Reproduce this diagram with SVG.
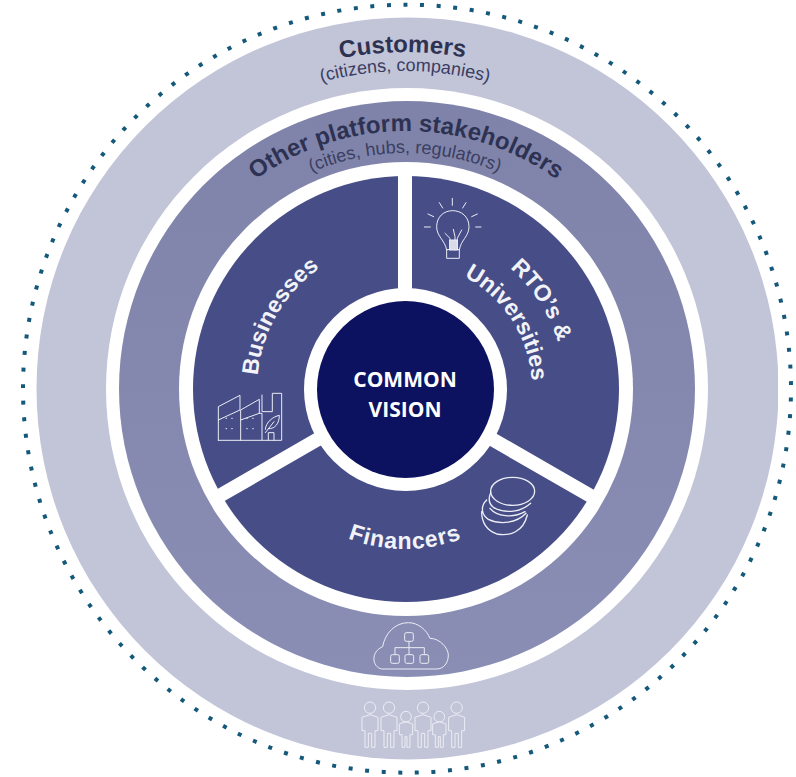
<svg xmlns="http://www.w3.org/2000/svg" width="796" height="777" viewBox="0 0 796 777">
<style>
.t{font-family:"Liberation Sans",Arial,sans-serif}
.h{font-weight:700;font-size:24px;fill:#2e3252}
.s{font-size:18px;fill:#3a3e62}
.w{font-weight:700;font-size:23px;fill:#f2f3f8}
.c{font-family:"Open Sans",sans-serif;font-weight:700;font-size:21px;fill:#fff;text-anchor:middle}
.i{fill:none;stroke:#eceef5;stroke-width:3;stroke-linejoin:round;stroke-linecap:round}
.p{fill:none;stroke:#eceDf4;stroke-width:3;stroke-linejoin:round}
</style>
<defs>
<clipPath id="clipDisc"><rect x="0" y="0" width="778" height="777"/></clipPath>
<linearGradient id="midGrad" x1="0" y1="0" x2="0" y2="1"><stop offset="0" stop-color="#7f83a9"/><stop offset="1" stop-color="#8a8eb5"/></linearGradient>
<path id="a337" d="M68 389A337 337 0 0 1 742 389"/>
<path id="a318" d="M87 389A318 318 0 0 1 723 389"/>
<path id="a258" d="M148 389A258 258 0 0 1 664 389"/>
<path id="a236" d="M169 389A236 236 0 0 1 641 389"/>
<path id="a148" d="M257 389A148 148 0 0 1 553 389"/>
<path id="a160" d="M245 389A160 160 0 0 1 565 389"/>
<path id="a127" d="M278 389A127 127 0 0 1 532 389"/>
<path id="f160" d="M245 389A160 160 0 0 0 565 389"/>
</defs>

<g id="customers">
<circle cx="407.5" cy="388.5" r="371" fill="#c2c4d8" clip-path="url(#clipDisc)"/>
<text class="t h" text-anchor="middle" transform="rotate(-0.4 405 389)"><textPath href="#a337" startOffset="50%">Customers</textPath></text>
<text class="t s" text-anchor="middle"><textPath href="#a318" startOffset="50%">(citizens, companies)</textPath></text>
</g>
<g id="boundary">
<circle cx="407" cy="388.7" r="384" fill="none" stroke="#14597a" stroke-width="4" pathLength="145" stroke-dasharray="0.24 0.76" stroke-dashoffset="0.4625"/>
</g>
<g id="platform-stakeholders">
<circle cx="407" cy="389" r="301" fill="#fff"/>
<circle cx="407" cy="389" r="288" fill="url(#midGrad)"/>
<text class="t h" text-anchor="middle"><textPath href="#a258" startOffset="50%">Other platform stakeholders</textPath></text>
<text class="t s" text-anchor="middle"><textPath href="#a236" startOffset="50%">(cities, hubs, regulators)</textPath></text>
</g>
<g id="partners">
<circle cx="406" cy="389" r="227" fill="#fff"/>
<circle cx="406" cy="389" r="213" fill="#474d87"/>
<path d="M405 389V170M405 389L214 499M405 389L596 499" stroke="#fff" stroke-width="14" fill="none"/>
</g>
<g id="businesses">
<text class="t w" text-anchor="middle" transform="rotate(-60 405 389)"><textPath href="#a148" startOffset="50%">Businesses</textPath></text>
<g transform="translate(200 240) scale(.3333)" class="i">
<path d="M55 601V500L120 466V510L55 540M122 601V510L178 478V520L122 540M178 520H186V600M55 601H245V460H217V515H186V465"/>
<path d="M78 535h2M95 535h2M78 566h2M95 566h2M140 535h2M158 535h2M140 566h2M158 566h2"/>
<path d="M196 568C198 545 220 530 238 526C238 550 225 568 205 566M196 578L222 545M205 601V578H222V601"/>
</g>
</g>
<g id="rtos-universities">
<text class="t w" text-anchor="middle" transform="rotate(57 405 389)"><textPath href="#a160" startOffset="50%">RTO’s &amp;</textPath></text>
<text class="t w" text-anchor="middle" transform="rotate(57 405 389)"><textPath href="#a127" startOffset="50%">Universities</textPath></text>
<g transform="translate(400 170) scale(.3333)" class="i">
<path d="M140 240C135 210 110 200 110 170C110 140 132 122 158 122C184 122 207 140 207 170C207 200 182 210 178 240M140 240V265H178V240Z"/>
<path d="M157 85V106M118 98L128 114M198 98L188 114M84 132L101 140M232 132L215 140M73 171H91M227 171H243"/>
<path d="M150 240V205L135 190M165 240V200L160 178M172 240V205L185 180" />
<path d="M150 210H172V240H150Z" fill="#d9dbe8"/>
</g>
</g>
<g id="financers">
<text class="t w" text-anchor="middle" letter-spacing=".9"><textPath href="#f160" startOffset="50%">Financers</textPath></text>
<g transform="translate(340 470) scale(.3333)" class="i" style="stroke-width:4">
<ellipse cx="518" cy="64" rx="66" ry="42"/>
<path d="M452 68C445 85 445 100 460 112C490 130 540 130 572 100M440 90C420 110 425 135 445 148C480 165 530 160 558 130M425 125C425 160 440 180 470 192C510 200 550 185 562 135M450 115C470 140 520 145 555 125"/>
</g>
</g>
<g id="platform-cloud">
<g transform="translate(340 610) scale(.3333)" class="p">
<path d="M125 177C95 170 92 125 128 110C135 70 165 38 205 38C235 38 260 60 270 85C300 85 325 115 325 135C325 160 310 177 290 177Z"/>
<rect x="194" y="68" width="26" height="26" rx="5"/>
<rect x="152" y="134" width="26" height="26" rx="5"/>
<rect x="195" y="134" width="26" height="26" rx="5"/>
<rect x="240" y="134" width="26" height="26" rx="5"/>
<path d="M207 94V134M165 134V113H253V134"/>
</g>
</g>
<g id="people">
<g transform="translate(340 610) scale(.3333)" class="p">
<g><circle cx="90" cy="293" r="17"/><path d="M66 362V322L90 314L114 322V362H105V412H95V370H85V412H75V362Z"/></g>
<g><circle cx="147" cy="293" r="17"/><path d="M123 362V322L147 314L171 322V362H162V412H152V370H142V412H132V362Z"/></g>
<g><circle cx="198" cy="320" r="16"/><path d="M178 374V342L198 335L218 342V374H210V412H201V380H195V412H186V374Z"/></g>
<g><circle cx="249" cy="293" r="17"/><path d="M225 362V322L249 314L273 322V362H264V412H254V370H244V412H234V362Z"/></g>
<g><circle cx="298" cy="320" r="16"/><path d="M278 374V342L298 335L318 342V374H310V412H301V380H295V412H286V374Z"/></g>
<g><circle cx="350" cy="293" r="17"/><path d="M326 362V322L350 314L374 322V362H365V412H355V370H345V412H335V362Z"/></g>
</g>
</g>
<g id="common-vision">
<circle cx="405.5" cy="389.5" r="101.5" fill="#fff"/>
<circle cx="405.5" cy="389.5" r="88.5" fill="#0d1260"/>
<text class="c" x="405" y="387">COMMON</text>
<text class="c" x="405" y="417">VISION</text>
</g>
</svg>
